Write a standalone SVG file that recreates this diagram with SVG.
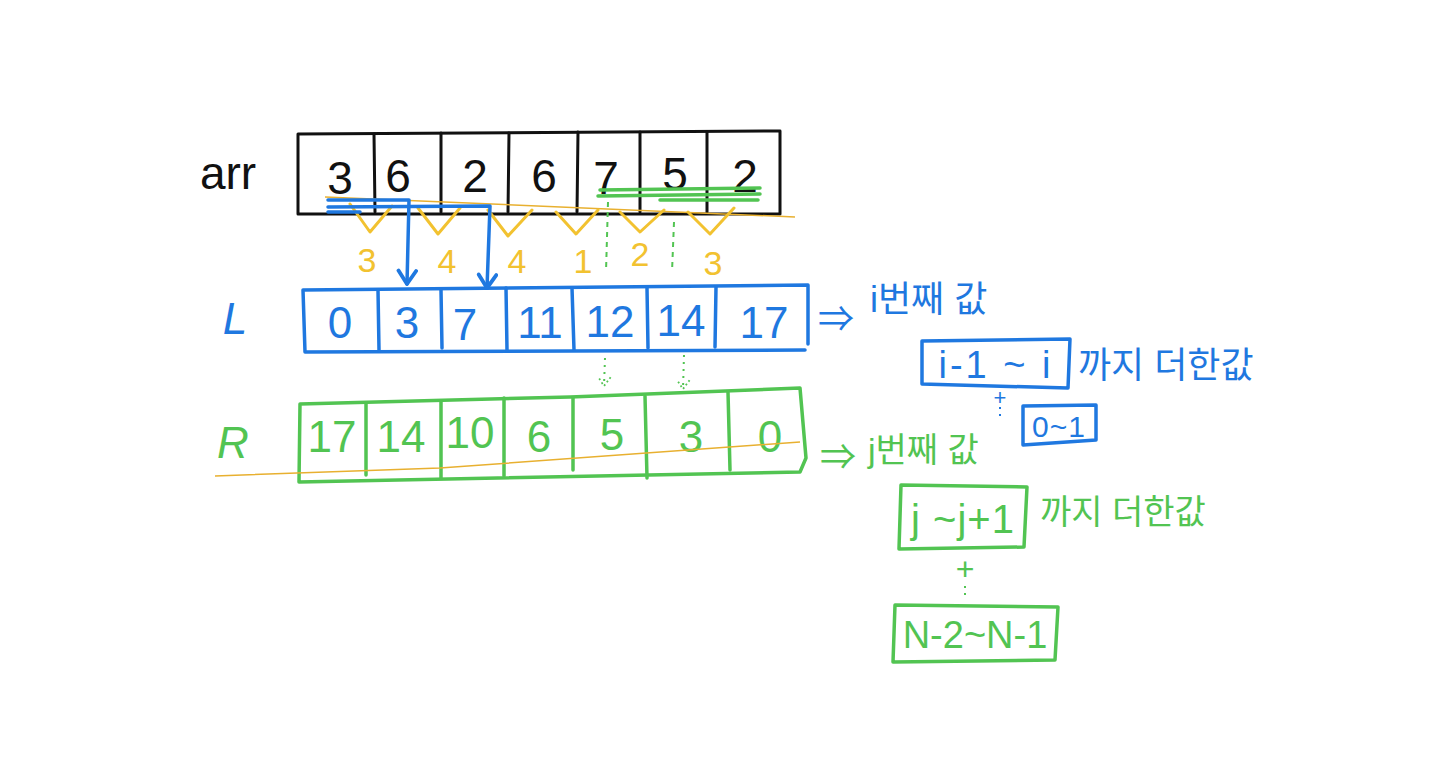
<svg xmlns="http://www.w3.org/2000/svg" width="1440" height="784" viewBox="0 0 1440 784">
<style>
.bk{fill:none;stroke:#111;stroke-width:3;stroke-linecap:round;stroke-linejoin:round}
.bl{fill:none;stroke:#1f78e0;stroke-width:3.5;stroke-linecap:round;stroke-linejoin:round}
.gr{fill:none;stroke:#52c452;stroke-width:3.5;stroke-linecap:round;stroke-linejoin:round}
.yl{fill:none;stroke:#f2c230;stroke-width:3;stroke-linecap:round;stroke-linejoin:round}
.yt{fill:none;stroke:#e8b030;stroke-width:1.5}
.dg{fill:none;stroke:#52c452;stroke-width:2;stroke-dasharray:5 5}
.dot{fill:none;stroke:#52c452;stroke-width:2;stroke-dasharray:2 5}
.dotb{fill:none;stroke:#1f78e0;stroke-width:2;stroke-dasharray:2 5}
text{font-family:"Liberation Sans","Noto Sans CJK KR",sans-serif;text-anchor:middle}
.tk{fill:#111;font-size:46px}
.tb{fill:#1f78e0;font-size:44px}
.tg{fill:#52c452;font-size:44px}
.ty{fill:#f2c230;font-size:34px}
.kb{fill:#1f78e0;font-size:36px;text-anchor:start}
.kg{fill:#52c452;font-size:34px;text-anchor:start}
</style>
<defs>
<marker id="ab" viewBox="0 0 20 20" refX="18" refY="10" markerWidth="22" markerHeight="22" markerUnits="userSpaceOnUse" orient="auto">
<path d="M6 2 L18 10 L6 18" fill="none" stroke="#1f78e0" stroke-width="3.5" stroke-linecap="round" stroke-linejoin="round"/>
</marker>
<marker id="ag" viewBox="0 0 20 20" refX="18" refY="10" markerWidth="18" markerHeight="18" markerUnits="userSpaceOnUse" orient="auto">
<path d="M8 3 L18 10 L8 17" fill="none" stroke="#52c452" stroke-width="2" stroke-dasharray="2 3"/>
</marker>
</defs>
<rect width="1440" height="784" fill="#fff"/>

<g id="arr">
<text x="228" y="189" class="tk">arr</text>
<path class="bk" d="M298 134 L780 131 L780 214 L298 214 Z"/>
<path class="bk" d="M374 134 L375 212 M441 133 L441 212 M509 133 L508 212 M578 132 L577 212 M640 132 L640 212 M707 132 L707 212"/>
<text x="340" y="194" class="tk">3</text>
<text x="398" y="192" class="tk">6</text>
<text x="475" y="192" class="tk">2</text>
<text x="544" y="192" class="tk">6</text>
<text x="606" y="194" class="tk">7</text>
<text x="675" y="190" class="tk">5</text>
<text x="745" y="192" class="tk">2</text>
</g>

<g id="diffs">
<path class="yt" d="M325 197 L795 217"/>
<path class="yl" d="M350 204 L370 232 L392 206 M418 208 L438 234 L460 208 M488 210 L508 236 L532 210 M556 212 L576 234 L598 210 M620 212 L640 232 L664 210 M688 212 L710 234 L734 208"/>
<text x="367" y="272" class="ty">3</text>
<text x="447" y="273" class="ty">4</text>
<text x="517" y="273" class="ty">4</text>
<text x="583" y="273" class="ty">1</text>
<text x="640" y="266" class="ty">2</text>
<text x="713" y="275" class="ty">3</text>
</g>

<g id="L">
<text x="235" y="334" class="tb" style="font-style:italic">L</text>
<path class="bl" d="M303 290 L808 285 L808 344 M805 350 L305 352 L303 290"/>
<path class="bl" d="M378 290 L379 350 M441 290 L442 348 M506 288 L507 350 M572 288 L574 350 M647 288 L648 348 M716 287 L715 347"/>
<text x="340" y="338" class="tb">0</text>
<text x="407" y="338" class="tb">3</text>
<text x="465" y="340" class="tb">7</text>
<text x="540" y="338" class="tb">11</text>
<text x="610" y="337" class="tb">12</text>
<text x="681" y="336" class="tb">14</text>
<text x="764" y="338" class="tb">17</text>
</g>

<g id="R">
<text x="233" y="458" class="tg" style="font-style:italic">R</text>
<path class="gr" d="M300 404 L570 397 L800 388 L806 458 L800 472 L299 482 L300 404"/>
<path class="gr" d="M366 404 L366 475 M441 402 L441 478 M504 398 L504 476 M573 398 L573 470 M645 396 L647 478 M728 392 L730 470"/>
<text x="332" y="452" class="tg">17</text>
<text x="401" y="452" class="tg">14</text>
<text x="470" y="448" class="tg">10</text>
<text x="539" y="452" class="tg">6</text>
<text x="612" y="450" class="tg">5</text>
<text x="691" y="452" class="tg">3</text>
<text x="770" y="452" class="tg">0</text>
<path class="yt" d="M215 476 L440 468 L800 442"/>
</g>

<g id="iLabel">
<text x="818" y="332" class="kb">⇒</text>
<text x="870" y="312" class="kb">i번째 값</text>
</g>
<g id="iBox">
<path class="bl" d="M922 341 L1070 339 L1068 388 L922 384 Z"/>
<text x="996" y="378" class="tb" style="font-size:38px;letter-spacing:3px">i-1 ~ i</text>
<text x="1078" y="378" class="kb">까지 더한값</text>
</g>
<g id="iPlus">
<text x="1000" y="405" class="tb" style="font-size:22px">+</text>
<path class="dotb" d="M1000 407 L1000 417"/>
</g>
<g id="i0Box">
<path class="bl" d="M1023 406 L1096 405 L1096 440 L1023 445 Z"/>
<text x="1059" y="437" class="tb" style="font-size:30px;letter-spacing:1px">0~1</text>
</g>

<g id="jLabel">
<text x="820" y="470" class="kg" style="font-size:36px">⇒</text>
<text x="868" y="462" class="kg">j번째 값</text>
</g>
<g id="jBox">
<path class="gr" d="M901 485 L1027 487 L1024 547 L899 549 Z"/>
<text x="963" y="533" class="tg" style="font-size:40px;letter-spacing:1px">j ~j+1</text>
<text x="1040" y="524" class="kg">까지 더한값</text>
</g>
<g id="jPlus">
<text x="965" y="580" class="tg" style="font-size:32px">+</text>
<path class="dot" d="M965 586 L965 600"/>
</g>
<g id="nBox">
<path class="gr" d="M895 605 L1058 607 L1055 660 L893 662 Z"/>
<text x="975" y="648" class="tg" style="font-size:38px">N-2~N-1</text>
</g>

<g id="connectors">
<path class="bl" d="M328 200 L409 200 L407 284" marker-end="url(#ab)"/>
<path class="bl" d="M328 207 L490 206 L487 288" marker-end="url(#ab)"/>
<path class="bl" d="M328 212 L360 212"/>
<path class="gr" d="M598 196 L760 194 M600 190 L760 188 M660 200 L758 200"/>
<path class="dg" d="M608 202 L606 272"/>
<path class="dg" d="M674 222 L672 272"/>
<path class="dot" d="M605 358 L604 386" marker-end="url(#ag)"/>
<path class="dot" d="M684 355 L683 389" marker-end="url(#ag)"/>
</g>
</svg>
